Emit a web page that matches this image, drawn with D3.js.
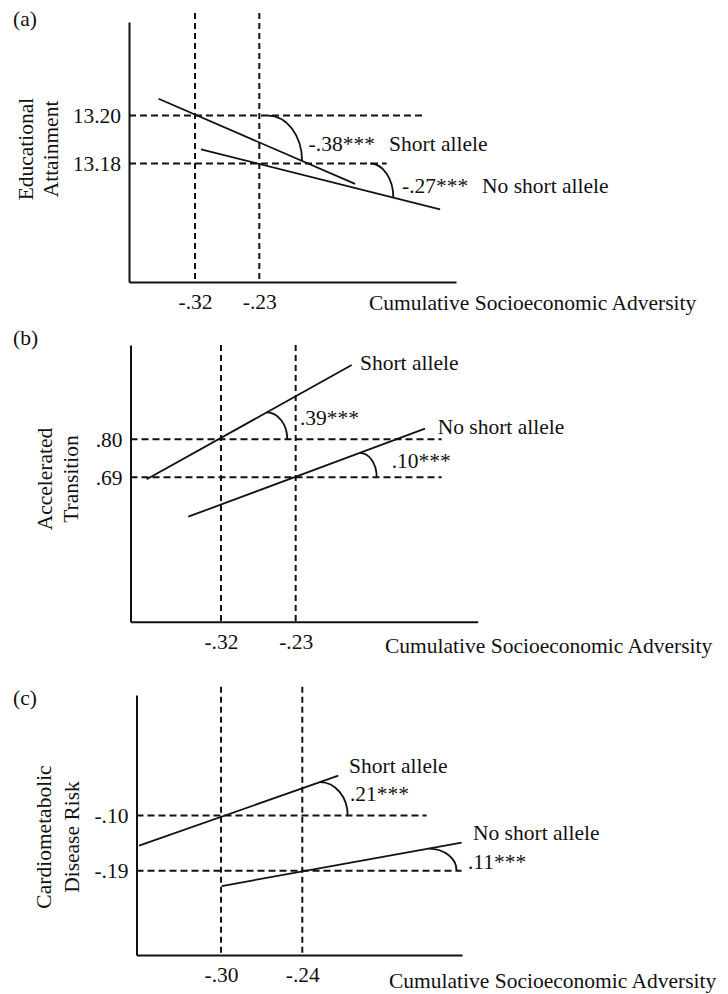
<!DOCTYPE html>
<html>
<head>
<meta charset="utf-8">
<script src="https://cdn.jsdelivr.net/npm/d3@7"></script>
<style>
  body { margin: 0; background: #fff; }
  svg { display: block; font-family: "Liberation Serif", "Times New Roman", serif; }
</style>
</head>
<body>
<svg id="chart" width="728" height="994"></svg>
<script>
// (a) educational attainment
const xDomainA = [-0.4124, 0.0453];
const yDomainA = [13.1306, 13.2390];
const xTicksA = [-0.32, -0.23];
const xTickLabelsA = ["-.32", "-.23"];
const yTicksA = [13.18, 13.20];
const yTickLabelsA = ["13.18", "13.20"];
const refEndA = [-0.0517, -0.001];
const shortA = [[-0.371, 13.2070], [-0.096, 13.1715]];
const noShortA = [[-0.3116, 13.1859], [0.023, 13.1609]];
const arcsA = [["short", 13.20, -0.2178, -0.1702], ["noShort", 13.18, -0.075, -0.0424]];
const notesA = [["-.38***", -0.161, 13.1885], ["Short allele", -0.0484, 13.1885],
                ["-.27***", -0.0302, 13.171], ["No short allele", 0.0817, 13.171]];

// (b) accelerated transition
const xDomainB = [-0.429, -0.0107];
const yDomainB = [0.2721, 1.0729];
const xTicksB = [-0.32, -0.23];
const xTickLabelsB = ["-.32", "-.23"];
const yTicksB = [0.69, 0.80];
const yTickLabelsB = [".69", ".80"];
const refEndB = [-0.0541, -0.0541];
const shortB = [[-0.4095, 0.6842], [-0.1625, 1.015]];
const noShortB = [[-0.3594, 0.576], [-0.0742, 0.8307]];
const arcsB = [["short", 0.80, -0.2649, -0.2401], ["noShort", 0.69, -0.1525, -0.1324]];
const notesB = [[".39***", -0.2248, 0.8645], ["Short allele", -0.1525, 1.0217],
                ["No short allele", -0.0589, 0.8385], [".10***", -0.1143, 0.74]];

// (c) cardiometabolic disease risk
const xDomainC = [-0.3624, -0.1221];
const yDomainC = [-0.3275, 0.0965];
const xTicksC = [-0.30, -0.24];
const xTickLabelsC = ["-.30", "-.24"];
const yTicksC = [-0.19, -0.10];
const yTickLabelsC = ["-.19", "-.10"];
const refEndC = [-0.1224, -0.1482];
const shortC = [[-0.3605, -0.1492], [-0.2134, -0.0351]];
const noShortC = [[-0.2995, -0.215], [-0.1224, -0.1443]];
const arcsC = [["short", -0.10, -0.2269, -0.2065], ["noShort", -0.19, -0.1465, -0.1261]];
const notesC = [["Short allele", -0.2055, -0.0177], [".21***", -0.2048, -0.0649],
                ["No short allele", -0.114, -0.128], [".11***", -0.1177, -0.1753]];

const xTitle = "Cumulative Socioeconomic Adversity";
const FS = 21.5;

const svg = d3.select("#chart");

const lineAt = (pts, x) => {
    const [[x0, y0], [x1, y1]] = pts;
    return y0 + (x - x0) * (y1 - y0) / (x1 - x0);
};

function panel(p) {
    const g = svg.append("g");
    const x = d3.scaleLinear().domain(p.xDomain).range([p.left, p.right]);
    const y = d3.scaleLinear().domain(p.yDomain).range([p.bottom, p.top]);

    // vertical guides
    g.selectAll(".vguide")
        .data(p.xTicks)
        .join("line")
        .attr("x1", d => x(d)).attr("x2", d => x(d))
        .attr("y1", p.dashTop).attr("y2", p.bottom)
        .attr("stroke", "#111").attr("stroke-width", 2)
        .attr("stroke-dasharray", "6,4");

    // horizontal guides
    g.selectAll(".hguide")
        .data(p.yTicks)
        .join("line")
        .attr("x1", p.left).attr("x2", (d, i) => x(p.refEnd[i]))
        .attr("y1", d => y(d)).attr("y2", d => y(d))
        .attr("stroke", "#111").attr("stroke-width", 2)
        .attr("stroke-dasharray", "7,4");

    const series = { short: p.short, noShort: p.noShort };
    g.selectAll(".fit")
        .data([p.short, p.noShort])
        .join("path")
        .attr("d", d3.line().x(d => x(d[0])).y(d => y(d[1])))
        .attr("fill", "none").attr("stroke", "#111").attr("stroke-width", 1.8);

    // slope angle markers
    g.selectAll(".arc")
        .data(p.arcs)
        .join("path")
        .attr("d", ([s, ref, x0, x1]) => {
            const ys = Math.max(lineAt(series[s], x0), ref);
            const ye = Math.min(lineAt(series[s], x1), ref);
            const sx = x(x0), sy = y(ys), ex = x(x1), ey = y(ye);
            return `M${sx},${sy}A${ex - sx},${ey - sy} 0 0 1 ${ex},${ey}`;
        })
        .attr("fill", "none").attr("stroke", "#111").attr("stroke-width", 1.8);

    g.selectAll(".note")
        .data(p.notes)
        .join("text")
        .attr("x", d => x(d[1])).attr("y", d => y(d[2]))
        .attr("dy", "0.35em")
        .attr("font-size", FS).attr("fill", "#111")
        .text(d => d[0]);

    const xAxis = d3.axisBottom(x)
        .tickValues(p.xTicks)
        .tickFormat((d, i) => p.xTickLabels[i])
        .tickSize(0).tickSizeOuter(0).tickPadding(12);
    const yAxis = d3.axisLeft(y)
        .tickValues(p.yTicks)
        .tickFormat((d, i) => p.yTickLabels[i])
        .tickSize(0).tickSizeOuter(0).tickPadding(8);

    [g.append("g").attr("transform", `translate(0,${p.bottom})`).call(xAxis),
     g.append("g").attr("transform", `translate(${p.left},0)`).call(yAxis)]
        .forEach(a => {
            a.attr("font-family", null).attr("font-size", FS);
            a.select(".domain").attr("stroke", "#111").attr("stroke-width", 2);
            a.selectAll("text").attr("fill", "#111");
        });

    g.append("text")
        .attr("x", p.xTitleX).attr("y", p.xTitleY).attr("dy", "0.35em")
        .attr("font-size", FS).attr("fill", "#111")
        .text(xTitle);

    g.selectAll(".ytitle")
        .data(p.yTitle)
        .join("text")
        .attr("transform", (d, i) => `translate(${p.yTitleX[i]},${p.yTitleY}) rotate(-90)`)
        .attr("text-anchor", "middle").attr("dy", "0.35em")
        .attr("font-size", FS).attr("fill", "#111")
        .text(d => d);

    g.append("text")
        .attr("x", 13).attr("y", p.tagY).attr("dy", "0.35em")
        .attr("font-size", FS).attr("fill", "#111")
        .text(p.tag);
}

panel({
    tag: "(a)", tagY: 18,
    left: 129, right: 456, top: 22, bottom: 282, dashTop: 13,
    xDomain: xDomainA, yDomain: yDomainA, xTicks: xTicksA, xTickLabels: xTickLabelsA,
    yTicks: yTicksA, yTickLabels: yTickLabelsA, refEnd: refEndA,
    short: shortA, noShort: noShortA, arcs: arcsA, notes: notesA,
    xTitleX: 369, xTitleY: 302,
    yTitle: ["Educational", "Attainment"], yTitleX: [25, 50], yTitleY: 149,
});

panel({
    tag: "(b)", tagY: 337,
    left: 130.5, right: 477.7, top: 345, bottom: 621.7, dashTop: 345,
    xDomain: xDomainB, yDomain: yDomainB, xTicks: xTicksB, xTickLabels: xTickLabelsB,
    yTicks: yTicksB, yTickLabels: yTickLabelsB, refEnd: refEndB,
    short: shortB, noShort: noShortB, arcs: arcsB, notes: notesB,
    xTitleX: 385, xTitleY: 645,
    yTitle: ["Accelerated", "Transition"], yTitleX: [44, 70], yTitleY: 479,
});

panel({
    tag: "(c)", tagY: 697,
    left: 136.5, right: 462, top: 695, bottom: 955, dashTop: 686.7,
    xDomain: xDomainC, yDomain: yDomainC, xTicks: xTicksC, xTickLabels: xTickLabelsC,
    yTicks: yTicksC, yTickLabels: yTickLabelsC, refEnd: refEndC,
    short: shortC, noShort: noShortC, arcs: arcsC, notes: notesC,
    xTitleX: 389, xTitleY: 980,
    yTitle: ["Cardiometabolic", "Disease Risk"], yTitleX: [43, 71.7], yTitleY: 837,
});
</script>
</body>
</html>
